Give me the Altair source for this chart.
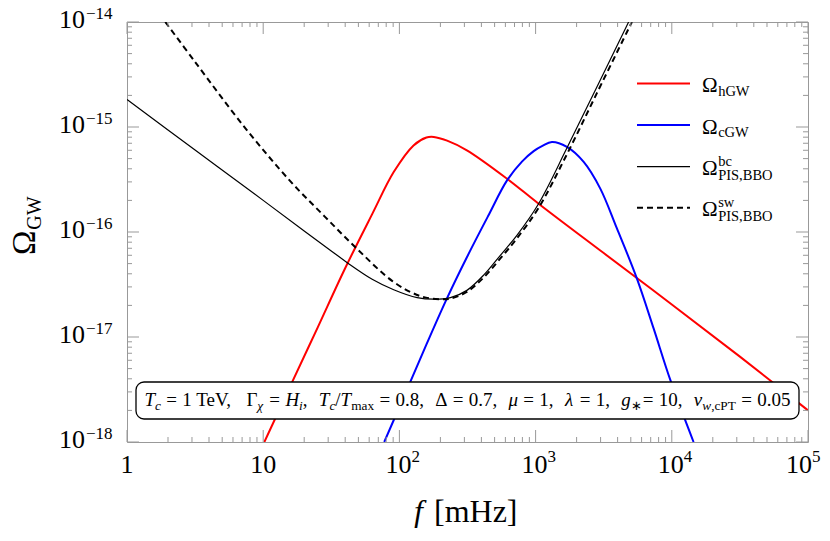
import altair as alt
import pandas as pd

FONT = "Liberation Serif"
GRAY = "#999999"
W, H = 681, 420

# ---------------- data ----------------
f_hgw = [10.2, 15.8, 25.1, 39.8, 63.1, 90.8, 127, 158, 179, 224, 313, 617, 1052, 3162, 10000, 31623, 100000]
om_hgw = [1.0e-18, 3.4e-18, 1.23e-17, 4.47e-17, 1.48e-16, 3.72e-16, 6.68e-16, 7.94e-16, 8.04e-16,
          7.41e-16, 6.0e-16, 3.22e-16, 1.86e-16, 6.3e-17, 2.04e-17, 6.5e-18, 2.0e-18]

f_cgw = [77.4, 120, 158, 223, 313, 447, 617, 794, 968, 1122, 1318, 1698, 2254, 2985, 3954, 5546, 7362, 9750, 14450]
om_cgw = [1.0e-18, 3.72e-18, 8.5e-18, 2.32e-17, 5.75e-17, 1.41e-16, 3.1e-16, 4.68e-16, 5.89e-16, 6.6e-16,
          7.2e-16, 6.46e-16, 4.65e-16, 2.59e-16, 1.08e-16, 3.6e-17, 1.2e-17, 3.9e-18, 1.0e-18]

f_bc = [1, 3.16, 10, 20, 31.6, 41.2, 63.1, 90.8, 135, 179, 237, 313, 417, 551, 729, 1052, 1698, 2818, 4819]
om_bc = [1.83e-15, 6.03e-16, 2.0e-16, 1.02e-16, 6.6e-17, 5.13e-17, 3.55e-17, 2.82e-17, 2.37e-17, 2.29e-17,
         2.37e-17, 2.78e-17, 3.9e-17, 6.0e-17, 9.3e-17, 1.86e-16, 6.3e-16, 2.4e-15, 1.0e-14]

f_sw = [1.91, 3.16, 7.19, 15.8, 28.2, 48.9, 90.8, 143, 200, 237, 313, 417, 551, 729, 1052, 1698, 2818, 5093]
om_sw = [1.0e-14, 4.17e-15, 1.02e-15, 3.05e-16, 1.41e-16, 6.9e-17, 3.34e-17, 2.45e-17, 2.29e-17, 2.32e-17,
         2.69e-17, 3.7e-17, 5.6e-17, 8.7e-17, 1.7e-16, 5.5e-16, 2.1e-15, 1.0e-14]

x_major = [1, 10, 100, 1000, 10000, 100000]
x_minor = [k * 10 ** d for d in range(5) for k in range(2, 10)]
y_major = [1e-18, 1e-17, 1e-16, 1e-15, 1e-14]
y_minor = [k * 10.0 ** e for e in range(-18, -14) for k in range(2, 10)]

x_plain_vals, x_plain_labels = [1, 10], ["1", "10"]
x_pow_vals, x_pow_exps = [100, 1000, 10000], ["2", "3", "4"]
x_last_val, x_last_exp = [100000], ["5"]
y_exps = ["−18", "−17", "−16", "−15", "−14"]

legend_subs = ["hGW", "cGW", "PIS,BBO", "PIS,BBO"]
legend_sups = ["", "", "bc", "sw"]
legend_colors = ["#ff0000", "#0000ff", "black", "black"]

xs = alt.Scale(type="log", domain=[1, 1e5], nice=False)
ys = alt.Scale(type="log", domain=[1e-18, 1e-14], nice=False)
dummy = pd.DataFrame({"d": [0]})


def curve(f, om, color, width, dash=None):
    df = pd.DataFrame({"f": f, "om": om})
    kw = dict(color=color, strokeWidth=width, interpolate="catmull-rom", clip=True)
    if dash:
        kw["strokeDash"] = dash
    return alt.Chart(df).mark_line(**kw).encode(
        x=alt.X("f:Q", scale=xs, axis=None),
        y=alt.Y("om:Q", scale=ys, axis=None),
    )


layers = [
    curve(f_hgw, om_hgw, "#ff0000", 2),
    curve(f_cgw, om_cgw, "#0000ff", 2),
    curve(f_bc, om_bc, "black", 1.2),
    curve(f_sw, om_sw, "black", 2, [6, 4]),
]

# ---------------- ticks (inside, all four sides) ----------------
def xticks(vals, ln):
    df = pd.DataFrame({"v": vals})
    out = []
    for y0, y1 in [(H, H - ln), (0, ln)]:
        out.append(alt.Chart(df).mark_rule(color=GRAY, strokeWidth=1).encode(
            x=alt.X("v:Q", scale=xs, axis=None), y=alt.value(y0), y2=alt.value(y1)))
    return out


def yticks(vals, ln):
    df = pd.DataFrame({"v": vals})
    out = []
    for x0, x1 in [(0, ln), (W, W - ln)]:
        out.append(alt.Chart(df).mark_rule(color=GRAY, strokeWidth=1).encode(
            y=alt.Y("v:Q", scale=ys, axis=None), x=alt.value(x0), x2=alt.value(x1)))
    return out


layers += xticks(x_major, 12) + xticks(x_minor, 5) + yticks(y_major, 12) + yticks(y_minor, 5)

# ---------------- tick labels ----------------
LBL = 26
EXP = 17
df_xp = pd.DataFrame({"v": x_plain_vals, "t": x_plain_labels})
layers.append(alt.Chart(df_xp).mark_text(font=FONT, fontSize=LBL, align="center", baseline="alphabetic", color="black").encode(
    x=alt.X("v:Q", scale=xs, axis=None), y=alt.value(H + 31), text="t:N"))
for vals, exps, dx in [(x_pow_vals, x_pow_exps, 12), (x_last_val, x_last_exp, 4)]:
    df = pd.DataFrame({"v": vals, "e": exps, "b": ["10"] * len(vals)})
    layers.append(alt.Chart(df).mark_text(font=FONT, fontSize=LBL, align="right", baseline="alphabetic", dx=dx, color="black").encode(
        x=alt.X("v:Q", scale=xs, axis=None), y=alt.value(H + 31), text="b:N"))
    layers.append(alt.Chart(df).mark_text(font=FONT, fontSize=EXP, align="left", baseline="alphabetic", dx=dx, color="black").encode(
        x=alt.X("v:Q", scale=xs, axis=None), y=alt.value(H + 20), text="e:N"))

df_y = pd.DataFrame({"v": y_major, "e": y_exps, "b": ["10"] * 5})
layers.append(alt.Chart(df_y).mark_text(font=FONT, fontSize=LBL, align="right", baseline="alphabetic", dy=6, color="black").encode(
    y=alt.Y("v:Q", scale=ys, axis=None), x=alt.value(-42), text="b:N"))
layers.append(alt.Chart(df_y).mark_text(font=FONT, fontSize=EXP, align="left", baseline="alphabetic", dy=-3, color="black").encode(
    y=alt.Y("v:Q", scale=ys, axis=None), x=alt.value(-41), text="e:N"))

# ---------------- legend lines ----------------
LEG_Y = [61.5, 103, 144.7, 185.7]
for i, yy in enumerate(LEG_Y):
    kw = dict(color=legend_colors[i], strokeWidth=2 if i != 2 else 1.2)
    if i == 3:
        kw["strokeDash"] = [6, 4]
    layers.append(alt.Chart(dummy).mark_rule(**kw).encode(
        x=alt.value(510), x2=alt.value(563), y=alt.value(yy)))

# ---------------- parameter box ----------------
layers.append(alt.Chart(dummy).mark_rect(fill="white", stroke="black", strokeWidth=1.3, cornerRadius=8).encode(
    x=alt.value(9), x2=alt.value(672), y=alt.value(360), y2=alt.value(397)))

# ---------------- rich-text segments (layout from font metrics) ----------------
WR = {' ': .25, ',': .25, '.': .25, '/': .278, '=': .564, 'T': .611, 'e': .444, 'V': .722, 'm': .778,
      'a': .444, 'x': .5, 'P': .556, 'c': .444, 'Γ': .578, 'Δ': .637, '∗': .5, '−': .564, 'h': .5,
      'G': .722, 'W': .944, 'I': .333, 'S': .556, 'B': .667, 'O': .722, 'b': .5, 's': .389, 'w': .722,
      'Ω': .768, 'H': .722, 'z': .444, '[': .333, ']': .333}
WI = {'T': .556, 'c': .444, 'H': .722, 'i': .278, 'g': .5, 'v': .444, 'w': .667, 'μ': .5, 'λ': .5,
      'χ': .5, 'f': .278}


def tw(t, italic, fs):
    tab = WI if italic else WR
    return sum(tab.get(ch, WR.get(ch, .5)) for ch in t) * fs


segs = []  # dicts: t, x, y, fs, it, ang

# box text
FS = 19
SUB = 0.7 * FS
TH = 0.28
G = "GAP"
tokens = [
    ("T", 1, 0, 0), ("c", 1, 1, 0), ("=", 0, 0, TH), ("1 TeV,", 0, 0, TH),
    ("Γ", 0, 0, G), ("χ", 1, 1, 0), ("=", 0, 0, TH), ("H", 1, 0, TH), ("i", 1, 1, 0), (",", 0, 0, 0),
    ("T", 1, 0, G), ("c", 1, 1, 0), ("/", 0, 0, 0), ("T", 1, 0, 0), ("max", 0, 1, 0), ("=", 0, 0, TH), ("0.8,", 0, 0, TH),
    ("Δ", 0, 0, G), ("=", 0, 0, TH), ("0.7,", 0, 0, TH),
    ("μ", 1, 0, G), ("=", 0, 0, TH), ("1,", 0, 0, TH),
    ("λ", 1, 0, G), ("=", 0, 0, TH), ("1,", 0, 0, TH),
    ("g", 1, 0, G), ("∗", 0, 1, 0), ("=", 0, 0, TH), ("10,", 0, 0, TH),
    ("v", 1, 0, G), ("w", 1, 1, 0), (",", 0, 1, 0), ("cPT", 0, 1, 0), ("=", 0, 0, TH), ("0.05", 0, 0, TH),
]
TARGET = 646
base_w = sum(tw(t, it, SUB if sb else FS) + (0 if g == G else g * FS) for t, it, sb, g in tokens)
ngap = sum(1 for tk in tokens if tk[3] == G)
gap_px = (TARGET - base_w) / ngap
xc = 340.5 - TARGET / 2
for t, it, sb, g in tokens:
    xc += gap_px if g == G else g * FS
    fs = SUB if sb else FS
    segs.append(dict(t=t, x=xc, y=384 + (4 if sb else 0), fs=fs, it=int(it), ang=0))
    xc += tw(t, it, fs)

# legend text
OM = 21
LS = 14.5
for i, yy in enumerate(LEG_Y):
    segs.append(dict(t="Ω", x=575, y=yy + 8.5, fs=OM, it=0, ang=0))
    xs2 = 575 + tw("Ω", 0, OM)
    if legend_sups[i]:
        segs.append(dict(t=legend_sups[i], x=xs2, y=yy - 1, fs=LS, it=0, ang=0))
        segs.append(dict(t=legend_subs[i], x=xs2, y=yy + 13, fs=LS, it=0, ang=0))
    else:
        segs.append(dict(t=legend_subs[i], x=xs2, y=yy + 12, fs=LS, it=0, ang=0))

# x title
segs.append(dict(t="f", x=287, y=500, fs=32, it=1, ang=0))
segs.append(dict(t="[mHz]", x=307, y=500, fs=32, it=0, ang=0))
# y title (rotated)
segs.append(dict(t="Ω", x=-92, y=233, fs=33, it=0, ang=270))
segs.append(dict(t="GW", x=-86, y=233 - tw("Ω", 0, 33), fs=20, it=0, ang=270))

ann = pd.DataFrame(segs)
for it in (0, 1):
    for ang in (0, 270):
        sub = ann[(ann.it == it) & (ann.ang == ang)]
        if len(sub) == 0:
            continue
        layers.append(alt.Chart(sub).mark_text(
            align="left", baseline="alphabetic", font=FONT, color="black",
            fontStyle="italic" if it else "normal", angle=ang).encode(
            x=alt.X("x:Q", scale=None, axis=None),
            y=alt.Y("y:Q", scale=None, axis=None),
            size=alt.Size("fs:Q", scale=None, legend=None),
            text="t:N"))

chart = alt.layer(*layers).resolve_scale(
    x="independent", y="independent", size="independent"
).properties(
    width=W, height=H,
    autosize=alt.AutoSizeParams(type="none"),
    padding={"left": 119, "top": 14, "right": 14, "bottom": 86},
).configure_view(stroke=GRAY, strokeWidth=1)

chart.save("out.html", embed_options={"renderer": "svg", "actions": False})
